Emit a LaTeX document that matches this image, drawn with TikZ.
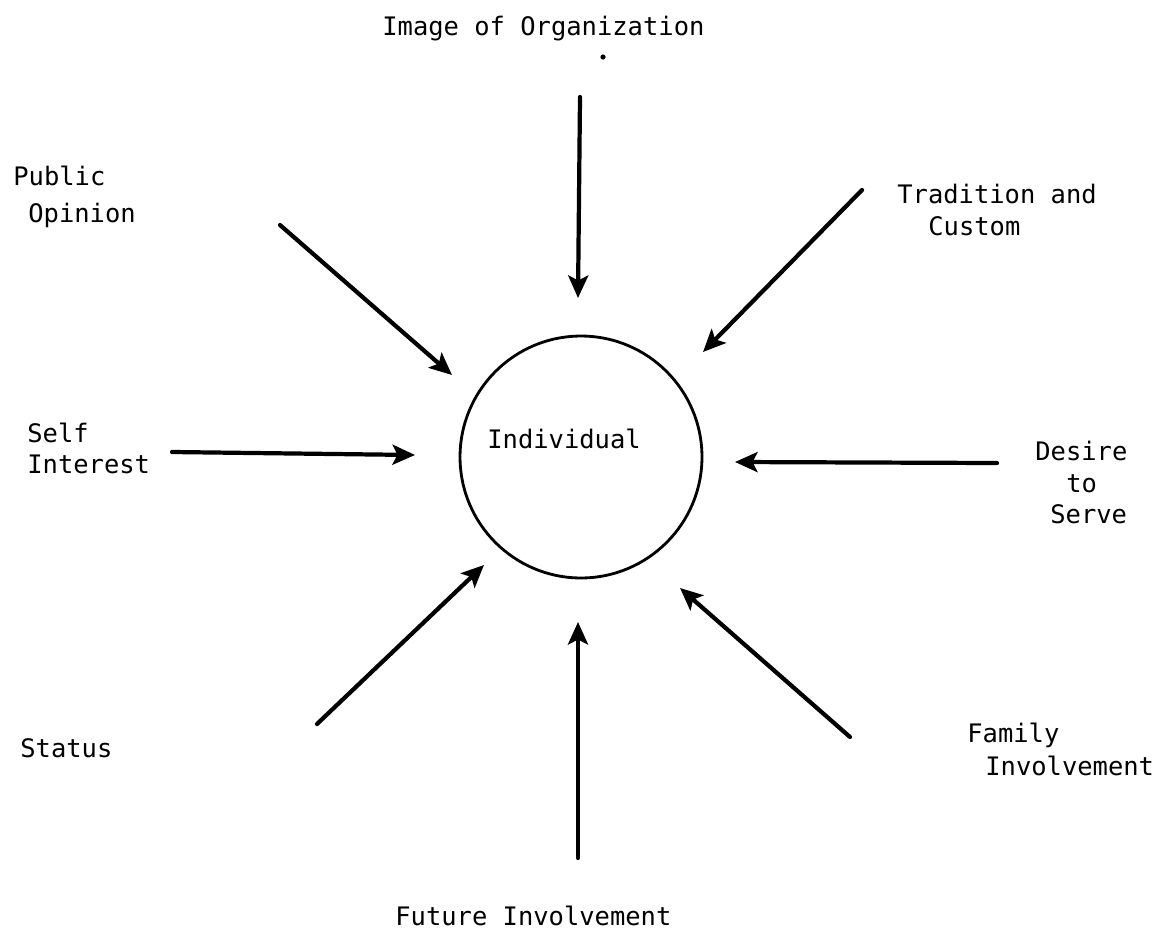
\documentclass[tikz,border=0pt]{standalone}
\usepackage{fontspec}
\setmonofont{DejaVu Sans Mono}
\usetikzlibrary{arrows.meta}
\tikzset{
  lbl/.style={font={\ttfamily\fontsize{14.5pt}{17pt}\selectfont}, anchor=base west, inner sep=0pt},
  inarrow/.style={line width=2.4pt, line cap=round, -{Stealth[length=4.5mm, width=4mm, inset=1mm]}},
}
\begin{document}
\begin{tikzpicture}[x=0.02cm, y=-0.02cm]
  \useasboundingbox (0,0) rectangle (1162,930);

  %% Centre circle
  \node[circle, draw, line width=1.6pt, minimum size=4.84cm, inner sep=0pt] (ind) at (581,457) {};
  \node[lbl] (indtxt) at (487,448) {Individual};

  %% Influences (one node per typed line)
  \foreach \nm/\x/\y/\txt in {
    img/382/35/{Image of Organization},
    pub1/13/185/{Public}, pub2/28/222/{Opinion},
    tra1/897/203/{Tradition and}, tra2/928/235/{Custom},
    slf1/27/442/{Self}, slf2/27/473/{Interest},
    des1/1035/460/{Desire}, des2/1066/492/{to}, des3/1050/523/{Serve},
    sta/20/757/{Status},
    fam1/967/742/{Family}, fam2/985/775/{Involvement},
    fut/395/925/{Future Involvement}
  }{
    \node[lbl] (\nm) at (\x,\y) {\txt};
  }
  \fill (603,57) circle (2.6);

  %% Arrows towards the individual
  \foreach \nm/\xa/\ya/\xb/\yb in {
    img/580/97/578/298,
    tra/862/190/703/352,
    des/997/463/735/462,
    fam/850/737/680/588,
    fut/578/858/578/622,
    sta/317/724/484/565,
    slf/172/452/415/455,
    pub/280/225/452/375
  }{
    \coordinate (\nm-s) at (\xa,\ya);
    \coordinate (\nm-e) at (\xb,\yb);
    \draw[inarrow] (\nm-s) -- (\nm-e);
  }

\end{tikzpicture}
\end{document}
